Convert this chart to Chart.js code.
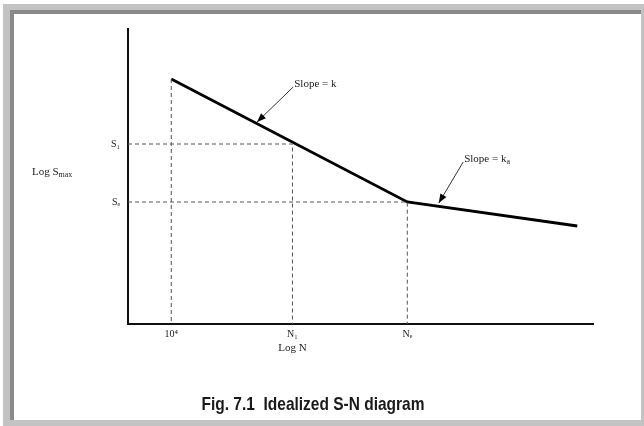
<!DOCTYPE html>
<html>
<head>
<meta charset="utf-8">
<script src="https://cdn.jsdelivr.net/npm/chart.js@4/dist/chart.umd.min.js"></script>
<style>
  body { margin: 0; background: #fff; }
  #page { position: relative; width: 644px; height: 426px; overflow: hidden; }
  .outer { position: absolute; left: 3px; top: 4px; width: 641px; height: 422px; background: #c3c3c3; }
  .inner { position: absolute; left: 10px; top: 10px; width: 631px; height: 410px; background: #fff;
           border-left: 4px solid #8a8a8a; border-top: 4px solid #8a8a8a; box-sizing: border-box; }
  canvas { position: absolute; left: 0; top: 0; }
</style>
</head>
<body>
<div id="page">
  <div class="outer"></div>
  <div class="inner"></div>
  <canvas id="snChart" width="644" height="426"></canvas>
</div>
<script>
// S-N curve (log N vs log S), idealized two-slope line
const logN = [4, 7, 9.16];
const logS = [4.9, 2.44, 1.96];

// axis ticks
const tickN = [4, 5.54, 7];
const tickNLabels = ["10\u2074", "N\u2081", "N\u2091"];
const tickS = [3.6, 2.44];
const tickSLabels = ["S\u2081", "S\u2091"];

// axis ranges
const xRange = [3.45, 9.36];
const yRange = [0, 5.9];

// slope annotations: [label, subscript, tailN, tailS, tipN, tipS]
const slopeNotes = [
  ["Slope = k", "", 5.55, 4.74, 5.09, 4.04],
  ["Slope = k", "a", 7.71, 3.24, 7.40, 2.42]
];

const serif = '"Liberation Serif", "Times New Roman", serif';

// dashed guide lines from the axes to the points
const guides = [
  [{ x: tickN[0], y: logS[0] }, { x: tickN[0], y: yRange[0] }],
  [{ x: xRange[0], y: tickS[0] }, { x: tickN[1], y: tickS[0] }, { x: tickN[1], y: yRange[0] }],
  [{ x: xRange[0], y: tickS[1] }, { x: tickN[2], y: tickS[1] }, { x: tickN[2], y: yRange[0] }]
];

const datasets = guides.map((g) => ({
  data: g,
  borderColor: "#555",
  borderWidth: 1,
  borderDash: [4, 3],
  pointRadius: 0,
  fill: false
}));
datasets.push({
  data: logN.map((n, i) => ({ x: n, y: logS[i] })),
  borderColor: "#000",
  borderWidth: 2.8,
  pointRadius: 0,
  fill: false
});

function textWithSub(ctx, main, sub, x, y, size) {
  ctx.font = size + "px " + serif;
  ctx.textAlign = "left";
  ctx.textBaseline = "middle";
  ctx.fillText(main, x, y);
  if (sub) {
    const w = ctx.measureText(main).width;
    ctx.font = Math.round(size * 0.7) + "px " + serif;
    ctx.fillText(sub, x + w, y + size * 0.3);
  }
}

const labelsPlugin = {
  id: "labels",
  afterDraw(c) {
    const ctx = c.ctx;
    const xs = c.scales.x, ys = c.scales.y;
    ctx.save();
    ctx.fillStyle = "#222";

    // slope notes with arrows
    slopeNotes.forEach(([txt, sub, tn, ts, pn, ps]) => {
      const x1 = xs.getPixelForValue(tn), y1 = ys.getPixelForValue(ts);
      const x2 = xs.getPixelForValue(pn), y2 = ys.getPixelForValue(ps);
      ctx.strokeStyle = "#333";
      ctx.lineWidth = 1;
      ctx.beginPath();
      ctx.moveTo(x1, y1);
      ctx.lineTo(x2, y2);
      ctx.stroke();
      const a = Math.atan2(y2 - y1, x2 - x1);
      ctx.fillStyle = "#000";
      ctx.beginPath();
      ctx.moveTo(x2, y2);
      ctx.lineTo(x2 - 9 * Math.cos(a) + 3.5 * Math.sin(a), y2 - 9 * Math.sin(a) - 3.5 * Math.cos(a));
      ctx.lineTo(x2 - 9 * Math.cos(a) - 3.5 * Math.sin(a), y2 - 9 * Math.sin(a) + 3.5 * Math.cos(a));
      ctx.closePath();
      ctx.fill();
      ctx.fillStyle = "#222";
      textWithSub(ctx, txt, sub, x1 + 1, y1 - 3, 11);
    });

    // axis titles
    textWithSub(ctx, "Log S", "max", 32, 172, 11);
    ctx.font = "11px " + serif;
    ctx.textAlign = "center";
    ctx.textBaseline = "middle";
    ctx.fillText("Log N", xs.getPixelForValue(tickN[1]), c.chartArea.bottom + 24);

    // caption, narrow bold sans
    ctx.fillStyle = "#1a1a1a";
    ctx.font = 'bold 19px "Liberation Sans", Arial, sans-serif';
    const cap = "Fig. 7.1  Idealized S-N diagram";
    const w = ctx.measureText(cap).width;
    ctx.translate(313, 405);
    ctx.scale(223 / w, 1);
    ctx.fillText(cap, 0, 0);
    ctx.restore();
  }
};

new Chart(document.getElementById("snChart").getContext("2d"), {
  type: "line",
  data: { datasets },
  options: {
    responsive: false,
    animation: false,
    layout: { padding: { left: 0, top: 29, right: 51, bottom: 0 } },
    plugins: { legend: { display: false }, tooltip: { enabled: false }, title: { display: false } },
    scales: {
      x: {
        type: "linear",
        min: xRange[0],
        max: xRange[1],
        grid: { display: false, drawTicks: false },
        border: { display: true, color: "#111", width: 2 },
        afterBuildTicks: (s) => { s.ticks = tickN.map((v) => ({ value: v })); },
        afterFit: (s) => { s.height = 102; },
        ticks: {
          autoSkip: false,
          maxRotation: 0,
          padding: 4,
          color: "#222",
          font: { family: serif, size: 10 },
          callback: (v, i) => tickNLabels[i]
        }
      },
      y: {
        type: "linear",
        min: yRange[0],
        max: yRange[1],
        grid: { display: false, drawTicks: false },
        border: { display: true, color: "#111", width: 2 },
        afterBuildTicks: (s) => { s.ticks = tickS.map((v) => ({ value: v })); },
        afterFit: (s) => { s.width = 128; },
        ticks: {
          autoSkip: false,
          padding: 8,
          color: "#222",
          font: { family: serif, size: 10 },
          callback: (v, i) => tickSLabels[i]
        }
      }
    }
  },
  plugins: [labelsPlugin]
});
</script>
</body>
</html>
